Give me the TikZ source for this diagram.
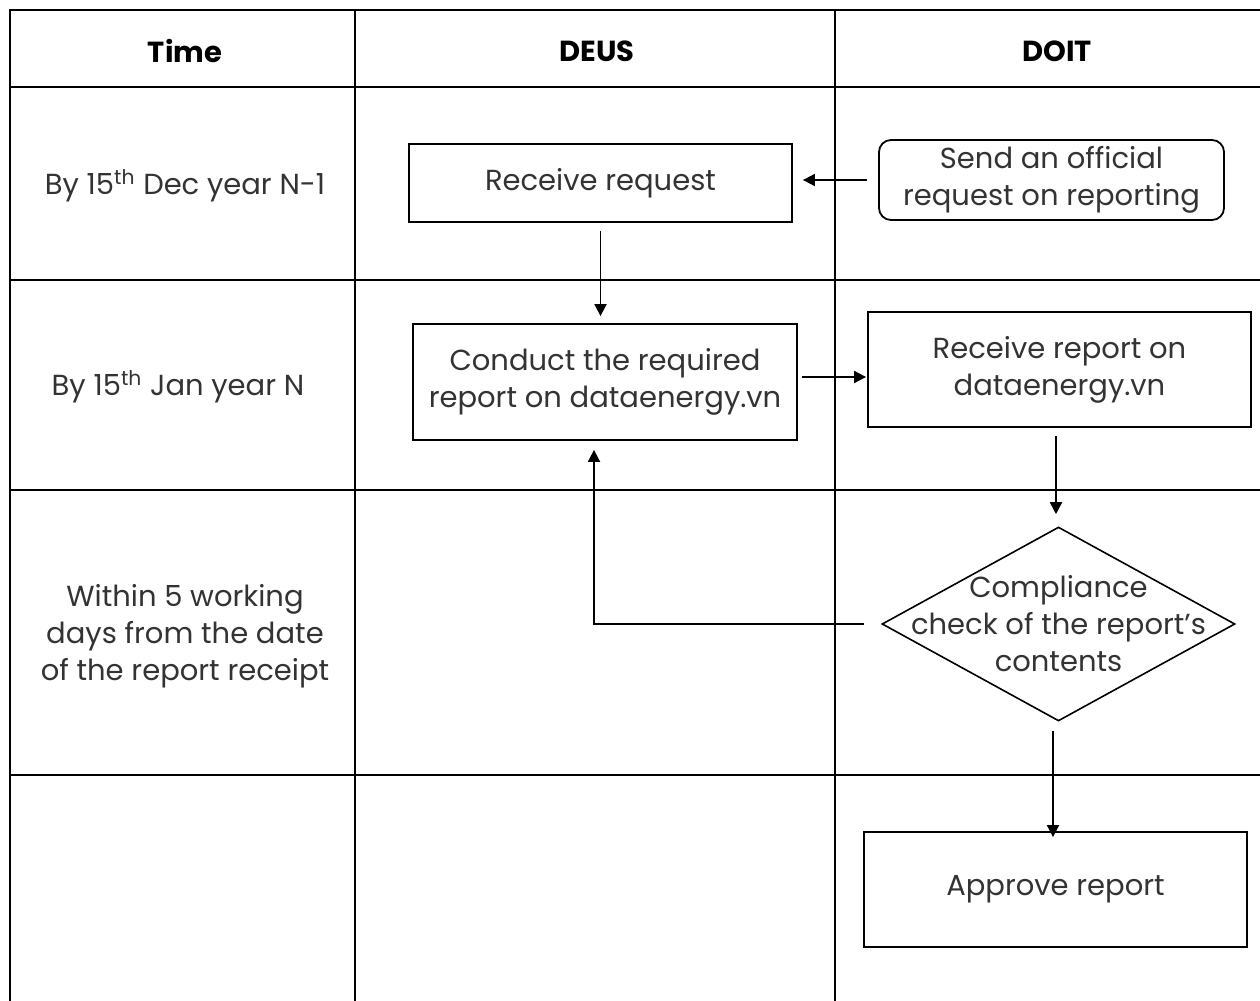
\documentclass[tikz,border=0pt]{standalone}
\usepackage{fontspec}
\setmainfont{Poppins}
\usetikzlibrary{arrows.meta,shapes.geometric}

\tikzset{
  grid line/.style={line width=1pt},
  stepbox/.style={draw,line width=0.9pt,inner sep=0pt,align=center,text=black!80},
  flow/.style={line width=0.9pt,-{Triangle[length=6pt,width=6pt]}},
  lbl/.style={align=center,text=black!80},
}

\begin{document}
\begin{tikzpicture}[x=0.5pt,y=-0.5pt,font=\fontsize{14.5}{18.5}\selectfont]
\useasboundingbox (0,0) rectangle (1260,1001);

% table
\draw[grid line] (10,1001) -- (10,10) -- (1260,10);
\foreach \y in {87,280,490,775}
    \draw[grid line] (10,\y) -- (1260,\y);
\foreach \x in {355,835}
    \draw[grid line] (\x,10) -- (\x,1001);

% headers
\node[font=\fontsize{14.5}{18.5}\bfseries] (hTime) at (185,51) {Time};
\node[font=\fontsize{14.5}{18.5}\bfseries] (hDeus) at (597,51) {DEUS};
\node[font=\fontsize{14.5}{18.5}\bfseries] (hDoit) at (1057,51) {DOIT};

% time column
\node[lbl] (t1) at (185,186) {By 15\textsuperscript{th} Dec year N-1};
\node[lbl] (t2) at (178,387) {By 15\textsuperscript{th} Jan year N};
\node[lbl] (t3) at (185,636) {Within 5 working\\days from the date\\of the report receipt};

% steps
\node[stepbox,minimum width=191.5pt,minimum height=39pt] (recvReq) at (600.5,183) {Receive request};
\node[stepbox,rounded corners=6pt,minimum width=172.5pt,minimum height=40pt] (sendReq) at (1051.5,180) {Send an official\\request on reporting};
\node[stepbox,minimum width=192pt,minimum height=58pt] (conduct) at (605,382) {Conduct the required\\report on dataenergy.vn};
\node[stepbox,minimum width=191.5pt,minimum height=57.5pt] (recvRep) at (1059.5,369.5) {Receive report on\\dataenergy.vn};
\node[draw,diamond,line width=0.8pt,minimum width=176.5pt,minimum height=97pt,inner sep=0pt] (check) at (1058.5,624) {};
\node[lbl] (checkText) at (check) {Compliance\\check of the report's\\contents};
\node[stepbox,minimum width=191.5pt,minimum height=57.5pt] (approve) at (1055.5,889.5) {Approve report};

% connectors
\draw[flow,shorten <=5.5pt,shorten >=5pt] (sendReq.west) -- (sendReq.west -| recvReq.east);
\draw[flow,shorten <=4pt,shorten >=3.5pt] (recvReq.south) -- (conduct.north -| recvReq.south);
\draw[flow,shorten <=2pt,shorten >=0.5pt] (conduct.east |- 0,377) -- (recvRep.west |- 0,377);
\draw[flow,shorten <=4pt,shorten >=6pt] (recvRep.south -| 1056,0) -- (check.north -| 1056,0);
\draw[flow,shorten <=8.5pt,shorten >=4.5pt] (check.west) -| (conduct.south -| 594,0);
\draw[flow,shorten <=4.5pt,shorten >=-3pt] (check.south -| 1053,0) -- (approve.north -| 1053,0);
\end{tikzpicture}
\end{document}
